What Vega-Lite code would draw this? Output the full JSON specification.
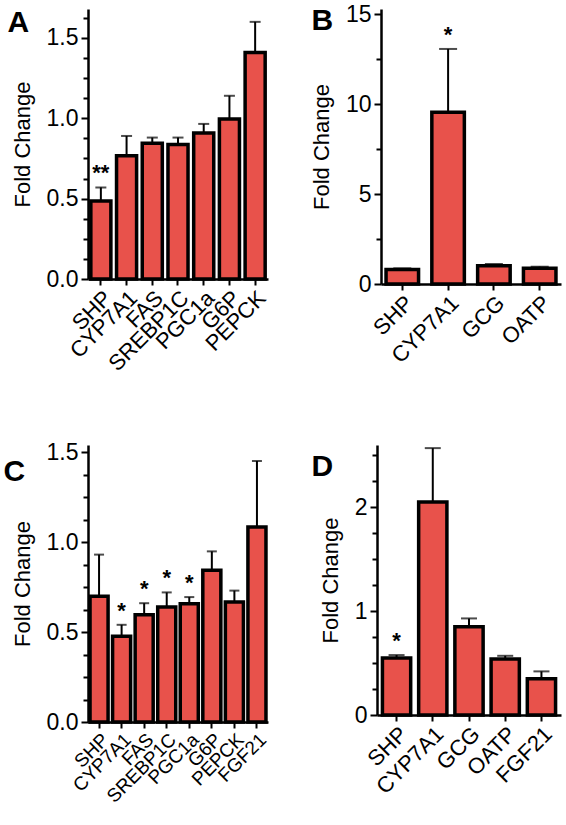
{
  "$schema": "https://vega.github.io/schema/vega-lite/v6.json",
  "background": "white",
  "padding": {"left": 3, "top": -4, "right": 5, "bottom": 5},
  "config": {
    "view": {"stroke": null},
    "font": "Liberation Sans",
    "axis": {
      "domainColor": "black", "domainWidth": 2.5, "tickColor": "black", "tickWidth": 2,
      "labelColor": "black", "titleColor": "black", "labelFont": "Liberation Sans", "titleFont": "Liberation Sans",
      "grid": false
    },
    "axisX": {"labelAngle": -45, "labelFontSize": 22, "tickSize": 6, "labelPadding": 2, "title": null},
    "axisY": {"labelFontSize": 23, "tickSize": 7, "labelPadding": 3, "titleFontSize": 22, "titleFontWeight": "normal", "titlePadding": 12},
    "bar": {"fill": "#e8524b", "stroke": "black", "strokeWidth": 3.5},
    "rule": {"color": "black", "strokeWidth": 2},
    "tick": {"color": "black", "thickness": 2},
    "text": {"font": "Liberation Sans", "fontSize": 22, "fontWeight": "bold", "baseline": "bottom", "color": "black"}
  },
  "vconcat": [
    {
      "spacing": 40,
      "hconcat": [
        {
          "width": 180, "height": 270,
          "data": {"values": [
            {"gene": "SHP", "value": 0.485, "upper": 0.57, "sig": "**"},
            {"gene": "CYP7A1", "value": 0.767, "upper": 0.89, "sig": ""},
            {"gene": "FAS", "value": 0.845, "upper": 0.88, "sig": ""},
            {"gene": "SREBP1C", "value": 0.837, "upper": 0.88, "sig": ""},
            {"gene": "PGC1a", "value": 0.908, "upper": 0.965, "sig": ""},
            {"gene": "G6P", "value": 0.996, "upper": 1.14, "sig": ""},
            {"gene": "PEPCK", "value": 1.41, "upper": 1.6, "sig": ""}
          ]},
          "encoding": {"x": {"field": "gene", "type": "nominal", "sort": null, "scale": {"paddingInner": 0.22, "paddingOuter": 0.11}}},
          "layer": [
            {"mark": "bar", "encoding": {"y": {"field": "value", "type": "quantitative", "scale": {"domain": [0, 1.68], "nice": false}, "axis": {"values": [0, 0.5, 1, 1.5], "format": ".1f", "title": "Fold Change"}}}},
            {"mark": "rule", "encoding": {"y": {"field": "value", "type": "quantitative", "axis": {"orient": "left", "values": [0.125, 0.25, 0.375, 0.625, 0.75, 0.875, 1.125, 1.25, 1.375, 1.625], "labels": false, "domain": false, "tickSize": 5, "title": "A", "titleAngle": 0, "titleX": -81, "titleY": 22, "titleAlign": "left", "titleBaseline": "alphabetic", "titleFontSize": 30, "titleFontWeight": "bold"}}, "y2": {"field": "upper"}}},
            {"mark": {"type": "tick", "size": 11}, "encoding": {"y": {"field": "upper", "type": "quantitative", "axis": null}}},
            {"mark": {"type": "text", "dy": -2}, "encoding": {"y": {"field": "upper", "type": "quantitative", "axis": null}, "text": {"field": "sig"}}}
          ],
          "resolve": {"axis": {"y": "independent"}}
        },
        {
          "width": 180, "height": 275,
          "data": {"values": [
            {"gene": "SHP", "value": 0.8, "upper": 0.87, "sig": ""},
            {"gene": "CYP7A1", "value": 9.54, "upper": 13.06, "sig": "*"},
            {"gene": "GCG", "value": 1.02, "upper": 1.11, "sig": ""},
            {"gene": "OATP", "value": 0.87, "upper": 0.96, "sig": ""}
          ]},
          "encoding": {"x": {"field": "gene", "type": "nominal", "sort": null, "scale": {"paddingInner": 0.29, "paddingOuter": 0.11}}},
          "layer": [
            {"mark": "bar", "encoding": {"y": {"field": "value", "type": "quantitative", "scale": {"domain": [0, 15.28], "nice": false}, "axis": {"values": [0, 5, 10, 15], "format": "d", "title": "Fold Change"}}}},
            {"mark": "rule", "encoding": {"y": {"field": "value", "type": "quantitative", "axis": {"orient": "left", "values": [2.5, 7.5, 12.5], "labels": false, "domain": false, "tickSize": 5, "title": "B", "titleAngle": 0, "titleX": -70, "titleY": 20, "titleAlign": "left", "titleBaseline": "alphabetic", "titleFontSize": 30, "titleFontWeight": "bold"}}, "y2": {"field": "upper"}}},
            {"mark": {"type": "tick", "size": 18}, "encoding": {"y": {"field": "upper", "type": "quantitative", "axis": null}}},
            {"mark": {"type": "text", "dy": -2}, "encoding": {"y": {"field": "upper", "type": "quantitative", "axis": null}, "text": {"field": "sig"}}}
          ],
          "resolve": {"axis": {"y": "independent"}}
        }
      ]
    },
    {
      "spacing": 41,
      "hconcat": [
        {
          "width": 180, "height": 277,
          "data": {"values": [
            {"gene": "SHP", "value": 0.698, "upper": 0.93, "sig": ""},
            {"gene": "CYP7A1", "value": 0.476, "upper": 0.54, "sig": "*"},
            {"gene": "FAS", "value": 0.596, "upper": 0.66, "sig": "*"},
            {"gene": "SREBP1C", "value": 0.639, "upper": 0.72, "sig": "*"},
            {"gene": "PGC1a", "value": 0.657, "upper": 0.694, "sig": "*"},
            {"gene": "G6P", "value": 0.843, "upper": 0.948, "sig": ""},
            {"gene": "PEPCK", "value": 0.667, "upper": 0.73, "sig": ""},
            {"gene": "FGF21", "value": 1.083, "upper": 1.45, "sig": ""}
          ]},
          "encoding": {"x": {"field": "gene", "type": "nominal", "sort": null, "scale": {"paddingInner": 0.2, "paddingOuter": 0.09}, "axis": {"labelFontSize": 19}}},
          "layer": [
            {"mark": "bar", "encoding": {"y": {"field": "value", "type": "quantitative", "scale": {"domain": [0, 1.539], "nice": false}, "axis": {"values": [0, 0.5, 1, 1.5], "format": ".1f", "title": "Fold Change"}}}},
            {"mark": "rule", "encoding": {"y": {"field": "value", "type": "quantitative", "axis": {"orient": "left", "values": [0.125, 0.25, 0.375, 0.625, 0.75, 0.875, 1.125, 1.25, 1.375], "labels": false, "domain": false, "tickSize": 5, "title": "C", "titleAngle": 0, "titleX": -85, "titleY": 35, "titleAlign": "left", "titleBaseline": "alphabetic", "titleFontSize": 30, "titleFontWeight": "bold"}}, "y2": {"field": "upper"}}},
            {"mark": {"type": "tick", "size": 10}, "encoding": {"y": {"field": "upper", "type": "quantitative", "axis": null}}},
            {"mark": {"type": "text", "dy": -2}, "encoding": {"y": {"field": "upper", "type": "quantitative", "axis": null}, "text": {"field": "sig"}}}
          ],
          "resolve": {"axis": {"y": "independent"}}
        },
        {
          "width": 184, "height": 270,
          "data": {"values": [
            {"gene": "SHP", "value": 0.55, "upper": 0.577, "sig": "*"},
            {"gene": "CYP7A1", "value": 2.05, "upper": 2.57, "sig": ""},
            {"gene": "GCG", "value": 0.85, "upper": 0.93, "sig": ""},
            {"gene": "OATP", "value": 0.54, "upper": 0.57, "sig": ""},
            {"gene": "FGF21", "value": 0.35, "upper": 0.42, "sig": ""}
          ]},
          "encoding": {"x": {"field": "gene", "type": "nominal", "sort": null, "scale": {"paddingInner": 0.22, "paddingOuter": 0.15}}},
          "layer": [
            {"mark": "bar", "encoding": {"y": {"field": "value", "type": "quantitative", "scale": {"domain": [0, 2.6], "nice": false}, "axis": {"values": [0, 1, 2], "format": "d", "title": "Fold Change"}}}},
            {"mark": "rule", "encoding": {"y": {"field": "value", "type": "quantitative", "axis": {"orient": "left", "values": [0.25, 0.5, 0.75, 1.25, 1.5, 1.75, 2.25, 2.5], "labels": false, "domain": false, "tickSize": 5, "title": "D", "titleAngle": 0, "titleX": -66, "titleY": 30, "titleAlign": "left", "titleBaseline": "alphabetic", "titleFontSize": 30, "titleFontWeight": "bold"}}, "y2": {"field": "upper"}}},
            {"mark": {"type": "tick", "size": 16}, "encoding": {"y": {"field": "upper", "type": "quantitative", "axis": null}}},
            {"mark": {"type": "text", "dy": -2}, "encoding": {"y": {"field": "upper", "type": "quantitative", "axis": null}, "text": {"field": "sig"}}}
          ],
          "resolve": {"axis": {"y": "independent"}}
        }
      ]
    }
  ],
  "spacing": 48
}
